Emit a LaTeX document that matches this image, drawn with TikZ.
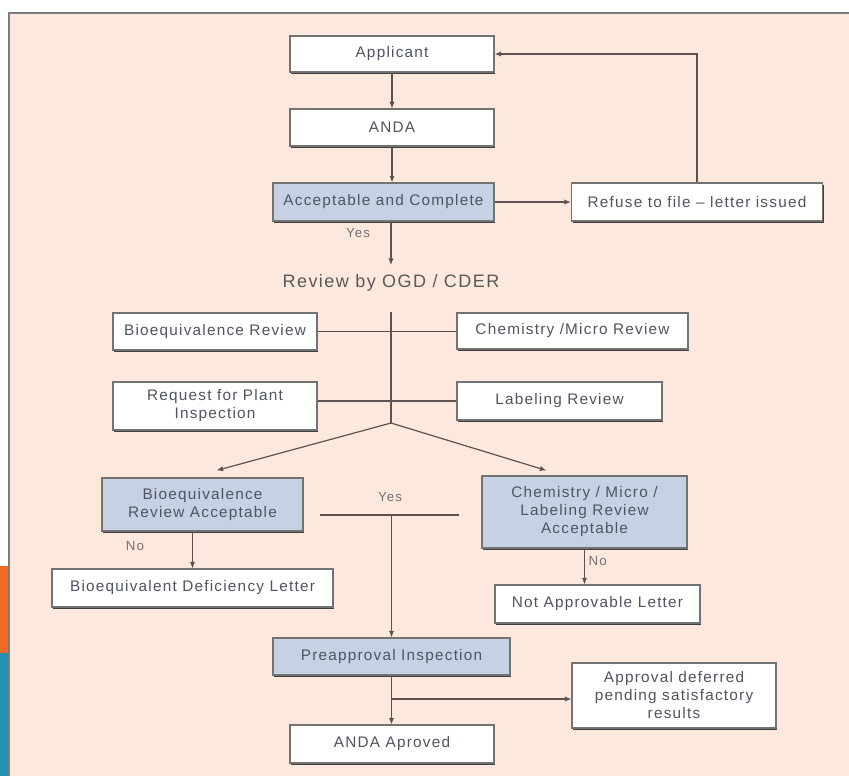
\documentclass[tikz,border=0pt]{standalone}
\usepackage{fontspec}
\setmainfont{Liberation Sans}[LetterSpace=8]
\usetikzlibrary{arrows.meta,shadows,calc}

\definecolor{peach}{RGB}{252,232,221}
\definecolor{boxblue}{RGB}{199,209,228}
\definecolor{txtgrey}{RGB}{78,84,96}
\definecolor{lnbrown}{RGB}{95,82,78}
\definecolor{panelline}{RGB}{125,125,125}
\definecolor{slideorange}{RGB}{238,108,38}
\definecolor{slideblue}{RGB}{38,146,178}

\tikzset{
  box/.style={draw=black!55, line width=0.8pt, fill=white, inner sep=0pt, align=center,
    font=\fontsize{11.5}{13.5}\selectfont, text=txtgrey,
    drop shadow={shadow xshift=0.9pt, shadow yshift=-1.3pt, fill=black!75, opacity=1}},
  okbox/.style={box, fill=boxblue},
  boxsize/.style 2 args={minimum width=#1*0.75pt, minimum height=#2*0.75pt},
  wire/.style={lnbrown, line width=0.9pt},
  arr/.style={wire, -{Latex[length=5pt,width=4pt]}},
  lbl/.style={font=\fontsize{10}{12}\selectfont, text=black!55, inner sep=1pt},
}

\begin{document}
\begin{tikzpicture}[x=0.75pt,y=0.75pt,yscale=-1,xscale=1]
\useasboundingbox (0,0) rectangle (849,776);

%Shape: Slide background
\fill[white] (0,0) rectangle (849,776);
\fill[peach] (9,13) rectangle (849,776);
\draw[panelline, line width=1.2pt] (9,776) -- (9,13) -- (849,13);
\fill[slideorange] (0,566) rectangle (8,653);
\fill[slideblue] (0,653) rectangle (8,776);

%Shape: Rectangle -- top column
\node[box, boxsize={204}{36}] (app) at (392,54) {Applicant};
\node[box, boxsize={204}{37}] (anda) at (392,127.5) {ANDA};
\node[okbox, boxsize={221}{38}] (acc) at (383.5,202) {Acceptable and Complete};
\node[box, boxsize={251}{38}] (refuse) at (697,202) {Refuse to file -- letter issued};

% Text Node
\node[font=\fontsize{13.5}{16}\selectfont, text=black!65, inner sep=7pt] (review) at (391,283) {Review by OGD / CDER};

%Shape: Rectangle -- reviews
\node[box, boxsize={204}{37}] (bioRev) at (215,331.5) {Bioequivalence Review};
\node[box, boxsize={231}{36}] (chemRev) at (572.5,331) {Chemistry /Micro Review};
\node[box, boxsize={204}{48}] (plant) at (215,406) {Request for Plant\\Inspection};
\node[box, boxsize={205}{38}] (label) at (559.5,401) {Labeling Review};

%Shape: Rectangle -- decisions
\node[okbox, boxsize={201}{53}] (bioAcc) at (202.5,504.5) {Bioequivalence\\Review Acceptable};
\node[okbox, boxsize={205}{72}] (chemAcc) at (584.5,512) {Chemistry / Micro /\\Labeling Review\\Acceptable};
\node[box, boxsize={281}{38}] (bioLet) at (192.5,588) {Bioequivalent Deficiency Letter};
\node[box, boxsize={205}{38}] (notApp) at (597.5,604) {Not Approvable Letter};

%Shape: Rectangle -- bottom
\node[okbox, boxsize={237}{37}] (pre) at (391.5,656.5) {Preapproval Inspection};
\node[box, boxsize={204}{65}] (defer) at (674,695.5) {Approval deferred\\pending satisfactory\\results};
\node[box, boxsize={204}{38}] (aproved) at (392,744) {ANDA Aproved};

% Connectors
\draw[arr] (app) -- (anda);
\draw[arr] (anda.south) -- (anda.south |- acc.north);
\draw[arr] (acc.east) -- (acc.east -| refuse.west);
\draw[arr] (refuse.north) |- (app.east);
\draw[arr] (review.north |- acc.south) -- (review.north);
\node[lbl] (yesA) at (358,233) {Yes};

\coordinate (hub) at (391,423);
\draw[wire] (review.south |- bioRev.north) -- (hub);
\draw[wire] (bioRev.east) -- (bioRev.east -| chemRev.west);
\draw[wire] (label.west) -- (label.west -| plant.east);
\draw[arr] (hub) -- ($(bioAcc.north)+(14,-7)$);
\draw[arr] (hub) -- ($(chemAcc.north)+(-38,-5)$);

\coordinate (yesL) at (320,515);
\coordinate (yesR) at (459,515);
\draw[wire] (yesL) -- (yesR);
\node[lbl] (yesB) at (390,497) {Yes};
\draw[arr] (pre.north |- yesL) -- (pre.north);

\draw[arr] (bioLet.north |- bioAcc.south) -- (bioLet.north);
\node[lbl] (noA) at (135,546) {No};
\draw[arr] (chemAcc.south) -- (chemAcc.south |- notApp.north);
\node[lbl, anchor=west] (noB) at (587,561) {No};

\draw[arr] (pre.south) -- (pre.south |- aproved.north);
\coordinate (split) at (391,699);
\draw[arr] (split) -- (split -| defer.west);

\end{tikzpicture}
\end{document}
